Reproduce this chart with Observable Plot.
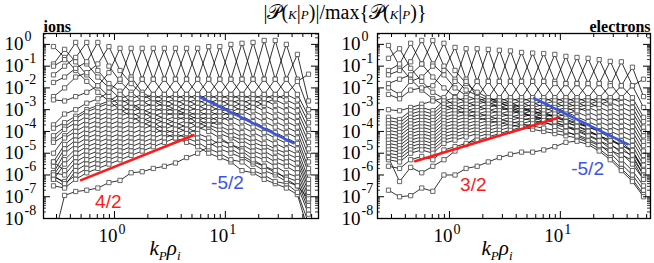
<!DOCTYPE html>
<html><head><meta charset="utf-8">
<script src="https://cdn.jsdelivr.net/npm/d3@7"></script>
<script src="https://cdn.jsdelivr.net/npm/@observablehq/plot@0.6"></script>
</head><body style="margin:0;background:#fff">
<div id="wrap" style="position:relative;width:654px;height:263px;overflow:hidden;font-family:'Liberation Serif',serif;color:#000"></div>
<script>
// k_P values (columns), shared by both panels
const kP = [0.2818, 0.3548, 0.4467, 0.5623, 0.7079, 0.8913, 1.122, 1.413, 1.778, 2.239, 2.818, 3.548,
            4.467, 5.623, 7.079, 8.913, 11.22, 14.13, 17.78, 22.39, 28.18, 35.48, 44.67, 56.23];

// log10 of |P(K|P)|/max, one row per K shell (ions)
const ionsLog10 = [
 [-0.1,-0.6,-1.2,-1.7,-2.2,-2.6,-3.0,-3.3,-3.6,-3.8,-4.1,-4.3,-4.5,-4.7,-5.0,-5.2,-5.4,-5.8,-5.9,-6.2,-6.4,-6.6,-6.9,-8.6],
 [-0.9,-0.23,-0.8,-1.4,-1.9,-2.4,-2.8,-3.1,-3.4,-3.6,-3.9,-4.1,-4.3,-4.5,-4.8,-5.0,-5.3,-5.4,-5.8,-6.0,-6.3,-6.4,-6.8,-8.2],
 [-1.0,-0.7,0.09,-0.9,-1.5,-2.0,-2.5,-2.8,-3.1,-3.4,-3.6,-3.8,-4.0,-4.3,-4.5,-4.8,-5.0,-5.2,-5.5,-5.8,-6.0,-6.3,-6.5,-7.8],
 [-1.4,-1.0,-0.6,0.09,-1.2,-1.8,-2.15,-2.7,-3.0,-3.2,-3.4,-3.6,-3.8,-4.1,-4.3,-4.6,-4.8,-5.1,-5.4,-5.6,-5.9,-6.1,-6.3,-7.6],
 [-1.75,-1.5,-1.1,-0.8,0.09,-1.0,-1.7,-2.2,-2.6,-2.9,-3.1,-3.3,-3.5,-3.8,-4.0,-4.3,-4.6,-4.8,-5.1,-5.3,-5.6,-5.9,-6.1,-7.4],
 [-2.4,-2.0,-1.5,-1.3,-0.9,-0.1,-1.2,-1.8,-2.3,-2.6,-2.9,-3.1,-3.3,-3.6,-3.8,-4.1,-4.3,-4.6,-4.9,-5.1,-5.4,-5.6,-5.9,-7.2],
 [-2.55,-2.6,-2.4,-2.2,-1.9,-1.3,-0.18,-1.5,-2.2,-2.5,-2.75,-3.0,-3.2,-3.45,-3.7,-3.9,-4.2,-4.4,-4.7,-4.9,-5.2,-5.4,-5.7,-7.0],
 [-3.7,-3.2,-3.0,-2.7,-2.5,-2.2,-1.6,-0.18,-1.6,-2.3,-2.55,-2.8,-3.05,-3.3,-3.5,-3.75,-4.0,-4.25,-4.5,-4.7,-4.95,-5.2,-5.45,-6.8],
 [-3.85,-3.6,-3.3,-3.0,-2.8,-2.6,-2.3,-1.6,-0.18,-1.6,-2.3,-2.55,-2.8,-3.05,-3.3,-3.55,-3.8,-4.05,-4.3,-4.55,-4.8,-5.0,-5.25,-6.6],
 [-4.2,-3.8,-3.4,-3.1,-2.9,-2.7,-2.5,-2.3,-1.6,-0.18,-1.6,-2.3,-2.55,-2.8,-3.05,-3.3,-3.55,-3.8,-4.05,-4.3,-4.55,-4.8,-5.05,-6.4],
 [-4.4,-3.9,-3.6,-3.3,-3.1,-2.9,-2.7,-2.5,-2.3,-1.6,-0.18,-1.6,-2.3,-2.55,-2.8,-3.05,-3.3,-3.55,-3.8,-4.05,-4.3,-4.55,-4.8,-6.2],
 [-4.5,-4.2,-3.8,-3.5,-3.3,-3.1,-2.9,-2.7,-2.5,-2.3,-1.6,-0.18,-1.6,-2.3,-2.55,-2.8,-3.05,-3.3,-3.55,-3.8,-4.05,-4.3,-4.55,-5.9],
 [-5.0,-4.3,-4.0,-3.7,-3.5,-3.3,-3.1,-2.9,-2.7,-2.5,-2.3,-1.6,-0.18,-1.6,-2.3,-2.55,-2.8,-3.05,-3.3,-3.55,-3.8,-4.05,-4.3,-5.7],
 [-5.4,-4.6,-4.2,-3.9,-3.7,-3.5,-3.3,-3.1,-2.9,-2.7,-2.5,-2.3,-1.6,-0.18,-1.6,-2.3,-2.55,-2.8,-3.05,-3.3,-3.55,-3.8,-4.05,-5.4],
 [-5.6,-4.8,-4.4,-4.1,-3.9,-3.7,-3.5,-3.3,-3.1,-2.9,-2.7,-2.5,-2.3,-1.6,-0.1,-1.6,-2.3,-2.55,-2.8,-3.05,-3.3,-3.55,-3.8,-5.1],
 [-5.9,-5.0,-4.6,-4.3,-4.1,-3.9,-3.7,-3.5,-3.3,-3.1,-2.9,-2.7,-2.5,-2.3,-1.6,-0.1,-1.6,-2.3,-2.55,-2.8,-3.05,-3.3,-3.55,-4.8],
 [-6.0,-5.3,-4.8,-4.5,-4.3,-4.1,-3.9,-3.7,-3.5,-3.3,-3.1,-2.9,-2.7,-2.5,-2.3,-1.6,0.0,-1.6,-2.3,-2.55,-2.8,-3.05,-3.3,-4.5],
 [-6.2,-5.5,-5.0,-4.7,-4.5,-4.3,-4.1,-3.9,-3.7,-3.5,-3.3,-3.1,-2.9,-2.7,-2.5,-2.3,-1.6,0.05,-1.6,-2.3,-2.55,-2.8,-3.05,-4.2],
 [-5.4,-5.8,-5.2,-4.9,-4.7,-4.5,-4.3,-4.1,-3.9,-3.7,-3.5,-3.3,-3.1,-2.9,-2.7,-2.5,-2.3,-1.6,0.09,-1.6,-2.3,-2.55,-2.8,-3.9],
 [-5.9,-6.0,-5.4,-5.1,-4.9,-4.7,-4.5,-4.3,-4.1,-3.9,-3.7,-3.5,-3.3,-3.1,-2.9,-2.7,-2.5,-2.3,-1.6,0.18,-1.6,-2.3,-2.55,-3.6],
 [-6.1,-6.3,-5.6,-5.3,-5.1,-4.9,-4.7,-4.5,-4.3,-4.1,-3.9,-3.7,-3.5,-3.3,-3.1,-2.9,-2.7,-2.5,-2.3,-1.6,0.18,-1.6,-2.3,-3.3],
 [-6.2,-6.5,-5.8,-5.5,-5.3,-5.1,-4.9,-4.7,-4.5,-4.3,-4.1,-3.9,-3.7,-3.5,-3.3,-3.1,-2.9,-2.7,-2.5,-2.3,-1.6,0.0,-1.6,-3.0],
 [-6.0,-6.4,-6.0,-5.7,-5.5,-5.3,-5.1,-4.9,-4.7,-4.5,-4.3,-4.1,-3.9,-3.7,-3.5,-3.3,-3.1,-2.9,-2.7,-2.5,-2.3,-1.6,-0.46,-2.6],
 [-6.5,-6.6,-6.2,-5.9,-5.7,-5.5,-5.3,-5.1,-4.9,-4.7,-4.5,-4.3,-4.1,-3.9,-3.7,-3.5,-3.3,-3.1,-2.9,-2.7,-2.5,-2.3,-1.7,-1.37],
 [-9.0,-6.94,-6.76,-6.7,-6.6,-6.35,-6.25,-5.9,-5.85,-5.7,-5.6,-5.45,-5.2,-5.0,-4.7,-4.4,-4.6,-4.9,-5.3,-5.6,-5.8,-6.2,-6.5,-7.1]
];

// log10 of |P(K|P)|/max, one row per K shell (electrons)
const electronsLog10 = [
 [-0.05,-1.0,-1.6,-2.1,-2.5,-2.8,-3.0,-3.2,-3.35,-3.5,-3.6,-3.7,-3.8,-3.9,-4.0,-4.1,-4.2,-4.3,-4.5,-4.8,-5.2,-5.7,-6.2,-6.9],
 [-0.64,-0.2,-1.1,-1.7,-2.2,-2.5,-2.8,-3.0,-3.15,-3.3,-3.45,-3.55,-3.65,-3.75,-3.85,-3.95,-4.05,-4.15,-4.35,-4.6,-5.0,-5.5,-6.0,-6.7],
 [-1.2,-0.9,0.05,-0.9,-1.5,-2.0,-2.4,-2.65,-2.85,-3.0,-3.15,-3.3,-3.4,-3.5,-3.6,-3.7,-3.8,-3.95,-4.15,-4.4,-4.8,-5.3,-5.8,-6.5],
 [-1.4,-1.2,-0.8,0.18,-0.9,-1.4,-2.0,-2.35,-2.55,-2.75,-2.9,-3.05,-3.2,-3.3,-3.4,-3.5,-3.6,-3.75,-3.95,-4.2,-4.55,-5.0,-5.5,-6.2],
 [-1.8,-1.6,-1.4,-0.9,0.18,-1.0,-1.6,-2.1,-2.35,-2.55,-2.7,-2.85,-3.0,-3.1,-3.2,-3.3,-3.45,-3.6,-3.8,-4.0,-4.3,-4.7,-5.2,-6.0],
 [-2.0,-2.3,-1.7,-1.5,-1.0,0.05,-1.2,-1.8,-2.2,-2.45,-2.6,-2.75,-2.9,-3.05,-3.2,-3.35,-3.5,-3.65,-3.8,-3.95,-4.2,-4.5,-4.9,-5.7],
 [-2.3,-2.5,-2.1,-2.0,-1.9,-1.2,-0.14,-1.6,-2.45,-2.67,-2.85,-3.0,-3.15,-3.3,-3.45,-3.6,-3.75,-3.9,-4.05,-4.2,-4.4,-4.6,-4.95,-5.8],
 [-3.0,-3.05,-2.9,-2.75,-2.6,-2.45,-1.7,-0.2,-1.7,-2.45,-2.67,-2.89,-3.11,-3.33,-3.55,-3.77,-3.99,-4.21,-4.43,-4.65,-4.87,-5.09,-5.31,-6.2],
 [-3.35,-3.45,-3.05,-2.9,-3.05,-2.6,-2.45,-1.7,-0.2,-1.7,-2.45,-2.67,-2.89,-3.11,-3.33,-3.55,-3.77,-3.99,-4.21,-4.43,-4.65,-4.87,-5.09,-6.0],
 [-3.5,-3.6,-3.2,-3.05,-3.2,-2.75,-2.6,-2.45,-1.7,-0.23,-1.7,-2.45,-2.67,-2.89,-3.11,-3.33,-3.55,-3.77,-3.99,-4.21,-4.43,-4.65,-4.87,-5.8],
 [-3.65,-3.75,-3.35,-3.2,-3.35,-2.9,-2.75,-2.6,-2.45,-1.7,-0.27,-1.7,-2.45,-2.67,-2.89,-3.11,-3.33,-3.55,-3.77,-3.99,-4.21,-4.43,-4.65,-5.55],
 [-3.8,-3.9,-3.5,-3.35,-3.5,-3.05,-2.9,-2.75,-2.6,-2.45,-1.7,-0.3,-1.7,-2.45,-2.67,-2.89,-3.11,-3.33,-3.55,-3.77,-3.99,-4.21,-4.43,-5.33],
 [-3.95,-4.05,-3.65,-3.5,-3.65,-3.2,-3.05,-2.9,-2.75,-2.6,-2.45,-1.7,-0.37,-1.7,-2.45,-2.67,-2.89,-3.11,-3.33,-3.55,-3.77,-3.99,-4.21,-5.1],
 [-4.1,-4.2,-3.8,-3.65,-3.8,-3.35,-3.2,-3.05,-2.9,-2.75,-2.6,-2.45,-1.7,-0.4,-1.7,-2.45,-2.67,-2.89,-3.11,-3.33,-3.55,-3.77,-3.99,-4.9],
 [-4.25,-4.35,-3.95,-3.8,-3.95,-3.5,-3.35,-3.2,-3.05,-2.9,-2.75,-2.6,-2.45,-1.7,-0.42,-1.7,-2.45,-2.67,-2.89,-3.11,-3.33,-3.55,-3.77,-4.65],
 [-4.4,-4.5,-4.1,-3.95,-4.1,-3.65,-3.5,-3.35,-3.2,-3.05,-2.9,-2.75,-2.6,-2.45,-1.7,-0.46,-1.8,-2.45,-2.67,-2.89,-3.11,-3.33,-3.55,-4.45],
 [-4.55,-4.65,-4.25,-4.1,-4.25,-3.8,-3.65,-3.5,-3.35,-3.2,-3.05,-2.9,-2.75,-2.6,-2.45,-1.8,-0.55,-1.8,-2.45,-2.67,-2.89,-3.11,-3.33,-4.2],
 [-4.7,-4.8,-4.4,-4.25,-4.4,-3.95,-3.8,-3.65,-3.5,-3.35,-3.2,-3.05,-2.9,-2.75,-2.6,-2.45,-1.8,-0.6,-1.8,-2.45,-2.67,-2.89,-3.11,-4.0],
 [-4.85,-4.95,-4.55,-4.4,-4.55,-4.1,-3.95,-3.8,-3.65,-3.5,-3.35,-3.2,-3.05,-2.9,-2.75,-2.6,-2.45,-1.8,-0.64,-1.8,-2.45,-2.67,-2.89,-3.8],
 [-5.0,-5.1,-4.7,-4.55,-4.7,-4.25,-4.1,-3.95,-3.8,-3.65,-3.5,-3.35,-3.2,-3.05,-2.9,-2.75,-2.6,-2.45,-1.8,-0.7,-1.8,-2.45,-2.67,-3.55],
 [-5.15,-5.25,-4.85,-4.7,-4.85,-4.4,-4.25,-4.1,-3.95,-3.8,-3.65,-3.5,-3.35,-3.2,-3.05,-2.9,-2.75,-2.6,-2.45,-1.8,-0.78,-1.9,-2.45,-3.35],
 [-5.3,-5.4,-5.0,-4.85,-5.0,-4.55,-4.4,-4.25,-4.1,-3.95,-3.8,-3.65,-3.5,-3.35,-3.2,-3.05,-2.9,-2.75,-2.6,-2.45,-1.9,-0.8,-1.9,-2.9],
 [-5.2,-6.3,-5.65,-5.9,-5.6,-5.3,-4.9,-4.6,-4.25,-4.1,-3.95,-3.8,-3.65,-3.5,-3.35,-3.2,-3.05,-2.9,-2.75,-2.6,-2.45,-1.9,-1.05,-2.4],
 [-5.6,-5.7,-5.3,-5.15,-5.3,-4.85,-4.7,-4.55,-4.4,-4.25,-4.1,-3.95,-3.8,-3.65,-3.5,-3.35,-3.2,-3.05,-2.9,-2.75,-2.6,-2.45,-1.9,-1.6],
 [-6.7,-7.0,-6.95,-6.6,-6.75,-6.0,-6.0,-5.7,-5.6,-5.4,-5.2,-5.05,-4.95,-4.95,-4.85,-4.7,-4.5,-4.45,-4.6,-4.9,-5.3,-5.8,-6.3,-7.0]
];

// reference slopes: [k, value] end points
const ionsRedSlope = [[0.50, 5.8e-7], [5.16, 6.7e-5]];
const ionsBlueSlope = [[5.97, 3.7e-3], [41.2, 2.9e-5]];
const electronsRedSlope = [[0.49, 4.3e-6], [9.4, 4.1e-4]];
const electronsBlueSlope = [[5.8, 3.3e-3], [40.3, 2.6e-5]];
const ionsRedLabel = ["4/2", 0.88, 5.6e-8];
const ionsBlueLabel = ["-5/2", 10.45, 4.2e-7];
const electronsRedLabel = ["3/2", 1.64, 3.4e-7];
const electronsBlueLabel = ["-5/2", 17.6, 2.0e-6];
const panelNames = ["ions", "electrons"];

// axis ticks and labels
const xTickValues = [1, 10];
const xTickExponents = ["0", "1"];
const xMinorTicks = [0.3, 0.4, 0.5, 0.6, 0.7, 0.8, 0.9, 2, 3, 4, 5, 6, 7, 8, 9, 20, 30, 40, 50, 60];
const yTickValues = [1e-8, 1e-7, 1e-6, 1e-5, 1e-4, 1e-3, 1e-2, 1e-1, 1];
const yTickExponents = ["-8", "-7", "-6", "-5", "-4", "-3", "-2", "-1", "0"];

const FH = 185; // frame height in px
const SERIF = "Liberation Serif";
const SANS = "Liberation Sans";

function panel({curves, red, blue, redLabel, blueLabel, name, nameAnchor, marginLeft, marginRight, xDomain, yLabDx}) {
  const W = 327, H = 263;
  const FW = W - marginLeft - marginRight;
  const rows = [];
  curves.forEach((arr, c) => arr.forEach((v, i) => rows.push({curve: c, k: kP[i], v: Math.pow(10, v)})));
  const yMinor = [];
  yTickValues.forEach(t => { for (let m = 2; m <= 9; m++) if (m * t < 3.1) yMinor.push(m * t); });
  const redRows = red.map(([k, v]) => ({k, v}));
  const blueRows = blue.map(([k, v]) => ({k, v}));
  return Plot.plot({
    width: W, height: H, marginLeft, marginRight, marginTop: 33, marginBottom: 45,
    x: {type: "log", domain: xDomain, axis: null},
    y: {type: "log", domain: [1e-8, Math.pow(10, 0.5)], axis: null},
    style: {background: "transparent", overflow: "visible"},
    marks: [
      Plot.line(rows, {x: "k", y: "v", z: "curve", stroke: "#000", strokeWidth: 0.8, clip: true}),
      Plot.dot(rows, {x: "k", y: "v", symbol: "square", r: 2.4, stroke: "#555", fill: "#fff", strokeWidth: 0.9, clip: true}),
      Plot.line(redRows, {x: "k", y: "v", stroke: "#ff1a1a", strokeWidth: 2.6}),
      Plot.line(blueRows, {x: "k", y: "v", stroke: "#3b55e0", strokeWidth: 2.6}),
      Plot.text([redLabel], {x: d => d[1], y: d => d[2], text: d => d[0], fill: "#ff1a1a", fontSize: 19, fontFamily: SANS}),
      Plot.text([blueLabel], {x: d => d[1], y: d => d[2], text: d => d[0], fill: "#3b55e0", fontSize: 19, fontFamily: SANS}),
      // panel name above the frame
      Plot.text([name], {frameAnchor: nameAnchor === "start" ? "top-left" : "top-right", text: d => d, textAnchor: nameAnchor,
        lineAnchor: "bottom", dy: -2, fontSize: 16, fontWeight: "bold", fontFamily: SERIF, fill: "#000"}),
      // x ticks (inward, bottom and top)
      Plot.tickX(xTickValues, {x: d => d, insetTop: FH - 7, stroke: "#000", strokeWidth: 1}),
      Plot.tickX(xTickValues, {x: d => d, insetBottom: FH - 7, stroke: "#000", strokeWidth: 1}),
      Plot.tickX(xMinorTicks, {x: d => d, insetTop: FH - 4, stroke: "#000", strokeWidth: 1}),
      Plot.tickX(xMinorTicks, {x: d => d, insetBottom: FH - 4, stroke: "#000", strokeWidth: 1}),
      // y ticks (inward, left and right)
      Plot.tickY(yTickValues, {y: d => d, insetRight: FW - 7, stroke: "#000", strokeWidth: 1}),
      Plot.tickY(yTickValues, {y: d => d, insetLeft: FW - 7, stroke: "#000", strokeWidth: 1}),
      Plot.tickY(yMinor, {y: d => d, insetRight: FW - 3, stroke: "#000", strokeWidth: 0.8}),
      Plot.tickY(yMinor, {y: d => d, insetLeft: FW - 3, stroke: "#000", strokeWidth: 0.8}),
      Plot.frame({stroke: "#000", strokeWidth: 1.3}),
      // tick labels
      Plot.text(yTickValues, {y: d => d, frameAnchor: "left", text: () => "10", textAnchor: "end", dx: yLabDx, fontSize: 19, fontFamily: SERIF, fill: "#000"}),
      Plot.text(yTickValues, {y: d => d, frameAnchor: "left", text: (d, i) => yTickExponents[i], textAnchor: "start", dx: yLabDx + 1, dy: -8, fontSize: 14, fontFamily: SERIF, fill: "#000"}),
      Plot.text(xTickValues, {x: d => d, frameAnchor: "bottom", text: () => "10", textAnchor: "end", dx: 3, dy: 23, fontSize: 19, fontFamily: SERIF, fill: "#000"}),
      Plot.text(xTickValues, {x: d => d, frameAnchor: "bottom", text: (d, i) => xTickExponents[i], textAnchor: "start", dx: 4, dy: 15, fontSize: 14, fontFamily: SERIF, fill: "#000"})
    ]
  });
}

const wrap = document.getElementById("wrap");
function place(node, left) {
  const box = document.createElement("div");
  box.style.cssText = "position:absolute;top:0px;left:" + left + "px;";
  box.appendChild(node);
  wrap.appendChild(box);
}
place(panel({curves: ionsLog10, red: ionsRedSlope, blue: ionsBlueSlope, redLabel: ionsRedLabel, blueLabel: ionsBlueLabel,
  name: panelNames[0], nameAnchor: "start", marginLeft: 43, marginRight: 9, xDomain: [0.229, 69.2], yLabDx: -20}), 0);
place(panel({curves: electronsLog10, red: electronsRedSlope, blue: electronsBlueSlope, redLabel: electronsRedLabel, blueLabel: electronsBlueLabel,
  name: panelNames[1], nameAnchor: "end", marginLeft: 50, marginRight: 4, xDomain: [0.2244, 65.0], yLabDx: -17}), 327);

function overlay(html, css) {
  const d = document.createElement("div");
  d.innerHTML = html;
  d.style.cssText = "position:absolute;white-space:nowrap;line-height:1;font-family:'Liberation Serif',serif;" + css;
  wrap.appendChild(d);
}
const small = "font-style:italic;font-size:13px";
const sub = "font-size:13px;position:relative;top:5px";
overlay(`|𝒫(<span style="${small}">K</span>|<span style="${small}">P</span>)|/max{𝒫(<span style="${small}">K</span>|<span style="${small}">P</span>)}`,
  "left:345px;top:2px;transform:translateX(-50%);font-size:20px;");
overlay(`<i>k<span style="${sub}">P</span>ρ<span style="${sub}">i</span></i>`, "left:165px;top:238px;transform:translateX(-50%);font-size:21px;");
overlay(`<i>k<span style="${sub}">P</span>ρ<span style="${sub}">i</span></i>`, "left:497px;top:238px;transform:translateX(-50%);font-size:21px;");
</script></body></html>
